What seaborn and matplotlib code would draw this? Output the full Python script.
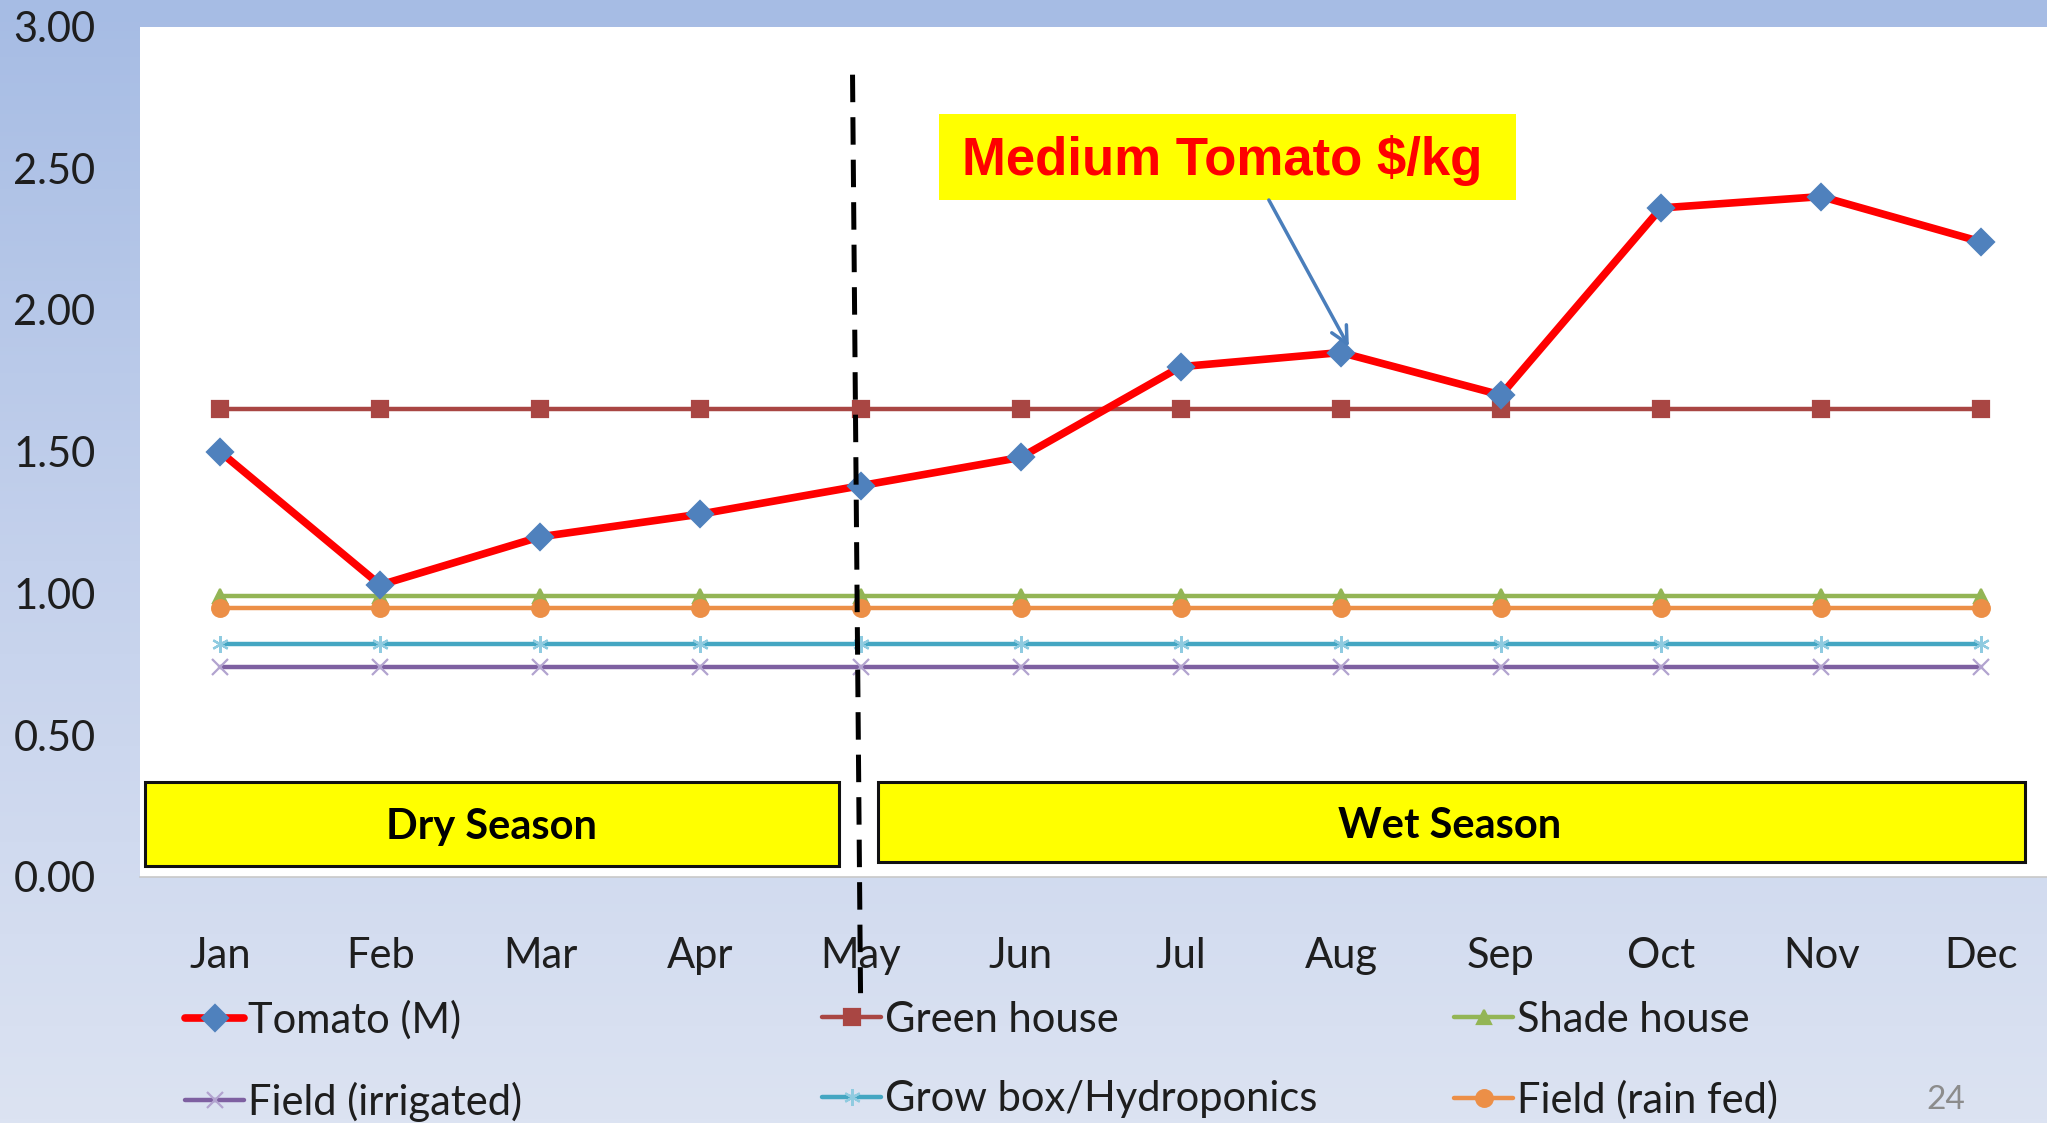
import numpy as np
import pandas as pd
import matplotlib
matplotlib.use("Agg")
import matplotlib.pyplot as plt
import seaborn as sns
from matplotlib.patches import Rectangle
from matplotlib.colors import LinearSegmentedColormap

months = ["Jan", "Feb", "Mar", "Apr", "May", "Jun", "Jul", "Aug", "Sep", "Oct", "Nov", "Dec"]
tomato = [1.50, 1.03, 1.20, 1.28, 1.38, 1.48, 1.80, 1.85, 1.70, 2.36, 2.40, 2.24]
green_house = [1.65, 1.65, 1.65, 1.65, 1.65, 1.65, 1.65, 1.65, 1.65, 1.65, 1.65, 1.65]
shade_house = [0.99, 0.99, 0.99, 0.99, 0.99, 0.99, 0.99, 0.99, 0.99, 0.99, 0.99, 0.99]
field_irrigated = [0.74, 0.74, 0.74, 0.74, 0.74, 0.74, 0.74, 0.74, 0.74, 0.74, 0.74, 0.74]
grow_box = [0.82, 0.82, 0.82, 0.82, 0.82, 0.82, 0.82, 0.82, 0.82, 0.82, 0.82, 0.82]
field_rain = [0.95, 0.95, 0.95, 0.95, 0.95, 0.95, 0.95, 0.95, 0.95, 0.95, 0.95, 0.95]
yticks = [0.0, 0.5, 1.0, 1.5, 2.0, 2.5, 3.0]

sns.set_style("white")
plt.rcParams["font.family"] = ["Lato", "DejaVu Sans"]
txtc = "#1e1e1e"

fig = plt.figure(figsize=(20.47, 11.23), dpi=100)

# slide background gradient
cmap = LinearSegmentedColormap.from_list("bg", ["#a6bce4", "#c4d1ec", "#dce3f2"])
bg = fig.add_axes([0, 0, 1, 1])
bg.imshow(np.linspace(0, 1, 256).reshape(-1, 1), aspect="auto", cmap=cmap, extent=[0, 1, 0, 1])
bg.set_axis_off()

ax = fig.add_axes([0.0684, 0.2191, 0.9316, 0.7573])
ax.set_facecolor("white")

series = [
    ("Green house", green_house, "#a94643", "s", 11, "#a94643", 3.2, 3),
    ("Shade house", shade_house, "#93b555", "^", 10, "#93b555", 3.2, 3),
    ("Field (rain fed)", field_rain, "#ec8f47", "o", 12, "#ec8f47", 3.2, 3),
    ("Grow box/Hydroponics", grow_box, "#44a6c2", (6, 2, 0), 12, "#8fcbe0", 3.2, 3),
    ("Field (irrigated)", field_irrigated, "#7e60a1", "x", 11, "#b2a3cf", 3.2, 3),
    ("Tomato (M)", tomato, "#ff0000", "D", 13.5, "#4f81bd", 5.5, 5),
]
for name, vals, col, mk, ms, mcol, lw, z in series:
    sns.lineplot(x=months, y=vals, ax=ax, color=col, lw=lw, marker=mk, ms=ms,
                 mfc=mcol, mec=mcol, mew=1.6, label=name, sort=False, zorder=z)

ax.set_xlim(-0.5, 11.41)
ax.set_ylim(0, 3)
ax.set_yticks(yticks)
ax.set_yticklabels([f"{v:.2f}" for v in yticks])
ax.tick_params(axis="y", length=0, pad=32, labelsize=30, labelcolor=txtc)
ax.tick_params(axis="x", length=0, pad=43, labelsize=30, labelcolor=txtc)
ax.set_xlabel("")
ax.set_ylabel("")
for s in ["top", "right", "left"]:
    ax.spines[s].set_visible(False)
ax.spines["bottom"].set_color("#c8c8c8")
ax.spines["bottom"].set_linewidth(1.2)

# season divider
may = months.index("May")
ax.plot([may - 0.05, may], [2.83, -0.41], color="black", lw=3.6,
        linestyle=(0, (5.5, 3)), clip_on=False, zorder=6)

# season boxes
ax.add_patch(Rectangle((-0.466, 0.039), 4.329, 0.296, facecolor="#ffff00",
                       edgecolor="#111111", lw=2.2, zorder=4))
ax.add_patch(Rectangle((4.11, 0.053), 7.16, 0.282, facecolor="#ffff00",
                       edgecolor="#111111", lw=2.2, zorder=4))
ax.text(1.695, 0.175, "Dry Season", ha="center", va="center", fontsize=30,
        fontweight="bold", color="black", zorder=5)
ax.text(7.68, 0.178, "Wet Season", ha="center", va="center", fontsize=30,
        fontweight="bold", color="black", zorder=5)

# callout
ax.add_patch(Rectangle((4.487, 2.388), 3.604, 0.303, facecolor="#ffff00",
                       edgecolor="none", zorder=4))
ax.text(6.26, 2.528, "Medium Tomato $/kg", ha="center", va="center", fontsize=38,
        fontweight="bold", color="#ff0000", family=["Liberation Sans", "DejaVu Sans"], zorder=5)
ax.annotate("", xy=(7.05, 1.87), xytext=(6.55, 2.388),
            arrowprops=dict(arrowstyle="->", color="#4a7ebb", lw=2.5,
                            mutation_scale=30, shrinkA=0, shrinkB=0), zorder=6)

# legend in three columns
if ax.get_legend() is not None:
    ax.get_legend().remove()
handles, labels = ax.get_legend_handles_labels()
hmap = dict(zip(labels, handles))
cols = [["Tomato (M)", "Field (irrigated)"],
        ["Green house", "Grow box/Hydroponics"],
        ["Shade house", "Field (rain fed)"]]
xs = [0.0904, 0.4016, 0.7103]
for names, xf in zip(cols, xs):
    fig.legend([hmap[n] for n in names], names, loc="upper left",
               bbox_to_anchor=(xf, 0.109), frameon=False, fontsize=30,
               handlelength=1.42, handletextpad=0.1, labelspacing=1.0,
               borderpad=0, borderaxespad=0, labelcolor=txtc)

fig.text(0.9506, 0.0205, "24", fontsize=24, color="#8c8c8c", ha="center", va="center")

fig.savefig("out.png", dpi=100)
